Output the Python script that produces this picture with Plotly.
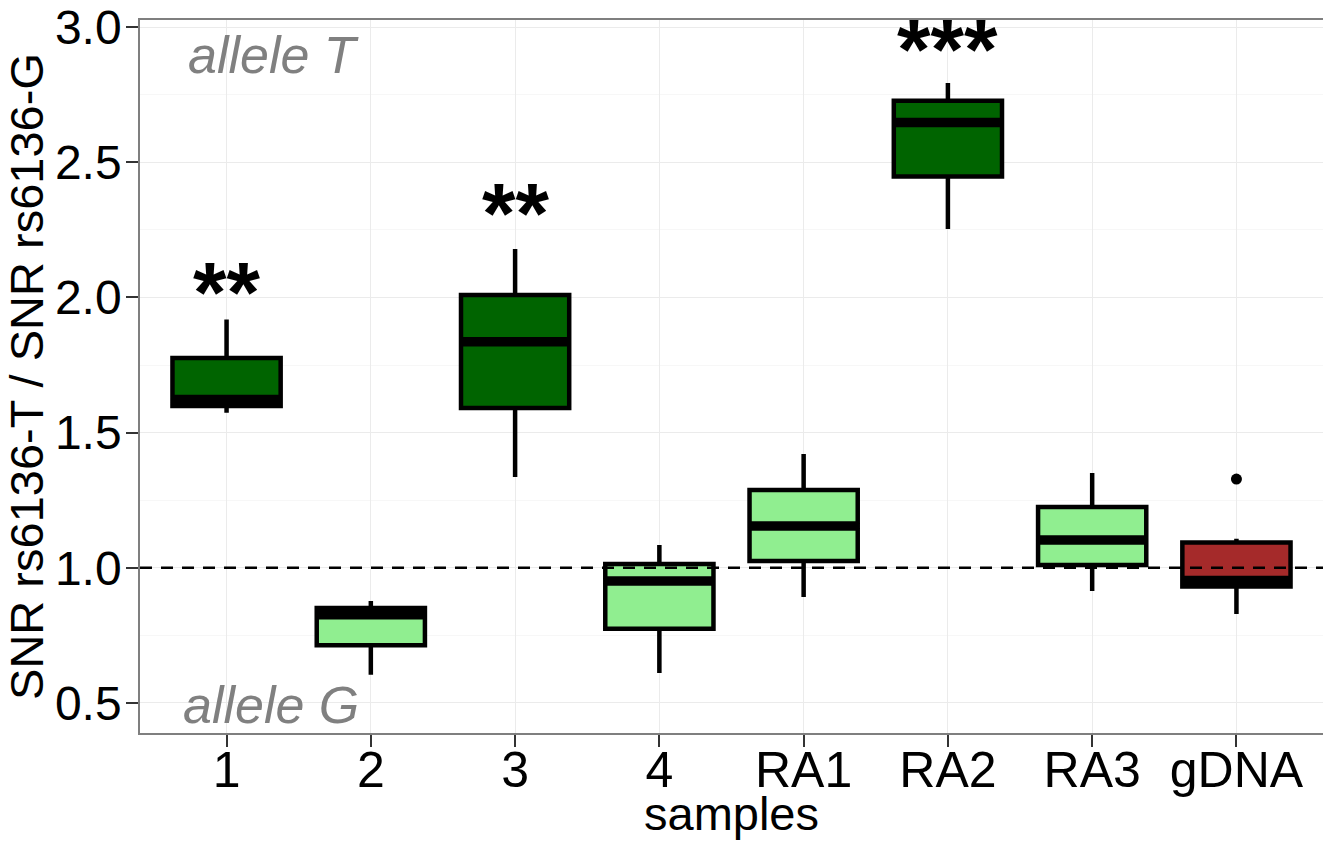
import plotly.graph_objects as go

samples = ["1", "2", "3", "4", "RA1", "RA2", "RA3", "gDNA"]
q1 = [1.598, 0.714, 1.591, 0.775, 1.025, 2.447, 1.010, 0.931]
median = [1.622, 0.826, 1.836, 0.951, 1.155, 2.647, 1.103, 0.953]
q3 = [1.776, 0.851, 2.009, 1.014, 1.288, 2.727, 1.225, 1.094]
lower = [1.573, 0.604, 1.336, 0.611, 0.892, 2.253, 0.914, 0.829]
upper = [1.918, 0.877, 2.179, 1.084, 1.421, 2.793, 1.351, 1.107]
fills = ["#006400", "#90EE90", "#006400", "#90EE90", "#90EE90", "#006400", "#90EE90", "#A52A2A"]

outlier_sample = ["gDNA"]
outlier_value = [1.328]

sig_samples = ["1", "3", "RA2"]
sig_labels = ["**", "**", "***"]
sig_y = [2.064, 2.357, 2.963]

ref_value = 1.0
y_ticks = [0.5, 1.0, 1.5, 2.0, 2.5, 3.0]
y_tick_labels = ["0.5", "1.0", "1.5", "2.0", "2.5", "3.0"]

X_RANGE = [-0.6, 7.6]
Y_RANGE = [0.389, 3.026]
BOX_W = 0.75
FONT = "Liberation Sans, Arial, sans-serif"

idx = {s: i for i, s in enumerate(samples)}

fig = go.Figure()

# reference line (drawn first so boxes cover it)
fig.add_trace(go.Scatter(x=X_RANGE, y=[ref_value, ref_value], mode="lines",
                         line=dict(color="black", width=2.5, dash="12px,9px"),
                         showlegend=False, hoverinfo="skip"))

for i, s in enumerate(samples):
    fig.add_trace(go.Box(
        x=[i], q1=[q1[i]], median=[median[i]], q3=[q3[i]],
        lowerfence=[lower[i]], upperfence=[upper[i]],
        width=BOX_W, whiskerwidth=0,
        fillcolor=fills[i], line=dict(color="black", width=4.5),
        boxpoints=False, showlegend=False, hoverinfo="skip",
    ))

# thick median lines (ggplot fatten)
mx, my = [], []
for i in range(len(samples)):
    mx += [i - BOX_W / 2 + 0.01, i + BOX_W / 2 - 0.01, None]
    my += [median[i], median[i], None]
fig.add_trace(go.Scatter(x=mx, y=my, mode="lines",
                         line=dict(color="black", width=9.5),
                         showlegend=False, hoverinfo="skip"))

fig.add_trace(go.Scatter(x=[idx[s] for s in outlier_sample], y=outlier_value,
                         mode="markers", marker=dict(color="black", size=11),
                         showlegend=False, hoverinfo="skip"))

for s, lab, yv in zip(sig_samples, sig_labels, sig_y):
    fig.add_annotation(x=idx[s], y=yv, text="<b>" + lab + "</b>", showarrow=False,
                       xanchor="center", yanchor="middle", yshift=-12,
                       font=dict(family=FONT, size=86, color="black"))

fig.add_annotation(x=0.325, y=2.896, text="<i>allele T</i>", showarrow=False,
                   xanchor="center", yanchor="middle",
                   font=dict(family=FONT, size=52, color="#808080"))
fig.add_annotation(x=0.31, y=0.493, text="<i>allele G</i>", showarrow=False,
                   xanchor="center", yanchor="middle",
                   font=dict(family=FONT, size=52, color="#808080"))

# x-axis title
fig.add_annotation(xref="paper", yref="paper", x=0.5, y=0, yshift=-80,
                   text="samples", showarrow=False,
                   xanchor="center", yanchor="middle",
                   font=dict(family=FONT, size=47, color="black"))

fig.update_layout(
    width=1323, height=841,
    margin=dict(l=140, r=0, t=20, b=108),
    paper_bgcolor="white", plot_bgcolor="white",
    boxmode="overlay",
    font=dict(family=FONT, color="black"),
)
fig.update_xaxes(
    range=X_RANGE, tickvals=list(range(len(samples))), ticktext=samples,
    tickfont=dict(size=50, color="black"), automargin=False,
    ticks="outside", ticklen=12, tickwidth=2, tickcolor="#333333",
    ticklabelstandoff=-20, ticklabeloverflow="allow",
    showgrid=True, gridcolor="#EBEBEB", gridwidth=1.2, zeroline=False,
    showline=True, linecolor="#7F7F7F", linewidth=1.5, mirror=True,
)
fig.update_yaxes(
    range=Y_RANGE, tickvals=y_ticks, ticktext=y_tick_labels,
    tickfont=dict(size=48, color="black"), automargin=False,
    ticks="outside", ticklen=12, tickwidth=2, tickcolor="#333333",
    ticklabelstandoff=-5, ticklabeloverflow="allow",
    showgrid=True, gridcolor="#EBEBEB", gridwidth=1.2, zeroline=False,
    minor=dict(dtick=0.25, tick0=0.25, showgrid=True, gridcolor="#F7F7F7", gridwidth=1.2, ticks=""),
    showline=True, linecolor="#7F7F7F", linewidth=1.5, mirror=True,
    title=dict(text="SNR rs6136-T / SNR rs6136-G", font=dict(size=47, color="black"), standoff=2),
)

fig.write_html("out.html", config={"displayModeBar": False},
               post_script="document.body.style.margin='0';")
